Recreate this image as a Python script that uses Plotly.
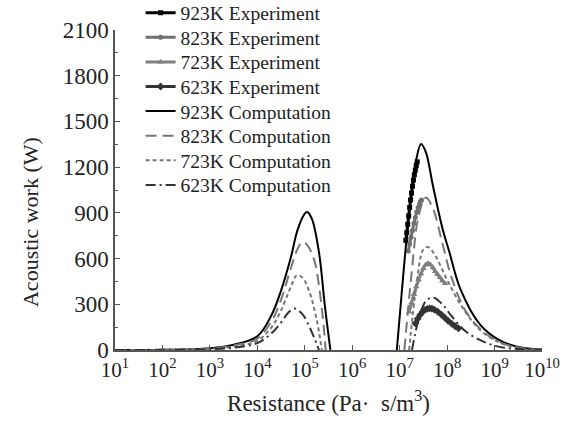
import numpy as np
import plotly.graph_objects as go

# ---------------- data (x as log10 of resistance, y acoustic work in W) ----------------
# Computation curves: left lobe
c923_left_logx = [1, 2, 3, 3.5, 4, 4.3, 4.5, 4.7, 4.85, 5.0, 5.05, 5.15, 5.3, 5.42, 5.54]
c923_left_w    = [0, 1, 12, 35, 90, 230, 390, 600, 790, 895, 905, 860, 640, 300, 0]
c823_left_logx = [1, 2, 3, 3.5, 4, 4.3, 4.5, 4.7, 4.85, 4.95, 5.05, 5.2, 5.3, 5.4, 5.44]
c823_left_w    = [0, 1, 10, 30, 75, 190, 330, 530, 665, 710, 690, 590, 420, 150, 0]
c723_left_logx = [1, 2, 3, 3.5, 4, 4.3, 4.5, 4.7, 4.83, 4.95, 5.1, 5.25, 5.36]
c723_left_w    = [0, 1, 8, 22, 60, 150, 260, 410, 490, 475, 380, 200, 0]
c623_left_logx = [1, 2, 3, 3.5, 4, 4.3, 4.5, 4.65, 4.78, 4.95, 5.1, 5.2, 5.3]
c623_left_w    = [0, 1, 5, 15, 45, 110, 180, 245, 272, 235, 150, 80, 0]

# Computation curves: right lobe
c923_right_logx = [6.94, 7.05, 7.2, 7.35, 7.45, 7.55, 7.7, 7.9, 8.05, 8.28, 8.7, 9.1, 9.5, 10]
c923_right_w    = [0, 400, 900, 1250, 1352, 1300, 1080, 800, 640, 400, 165, 65, 20, 3]
c823_right_logx = [7.1, 7.25, 7.4, 7.55, 7.7, 7.9, 8.1, 8.4, 8.8, 9.2, 9.6, 10]
c823_right_w    = [0, 500, 880, 1000, 930, 700, 470, 250, 110, 40, 10, 2]
c723_right_logx = [7.2, 7.35, 7.5, 7.6, 7.75, 8.0, 8.3, 8.7, 9.1, 9.5, 10]
c723_right_w    = [0, 420, 660, 675, 620, 460, 290, 130, 50, 15, 2]
c623_right_logx = [7.26, 7.4, 7.55, 7.7, 7.9, 8.1, 8.4, 8.8, 9.2, 10]
c623_right_w    = [0, 200, 320, 345, 300, 220, 120, 50, 15, 1]

# Experiments
e923_logx = [7.13, 7.15, 7.17, 7.19, 7.21, 7.23, 7.25, 7.27, 7.29, 7.31, 7.33, 7.35, 7.37]
e923_w    = [720, 770, 825, 880, 935, 985, 1030, 1075, 1115, 1150, 1180, 1210, 1235]
e823_logx = [7.18, 7.21, 7.24, 7.27, 7.30, 7.33, 7.36, 7.39, 7.42, 7.44, 7.46]
e823_w    = [650, 695, 740, 785, 830, 870, 905, 935, 960, 975, 985]
e723_logx = [7.2, 7.25, 7.3, 7.35, 7.4, 7.45, 7.5, 7.55, 7.6, 7.65, 7.7, 7.75, 7.8, 7.85, 7.9, 7.96]
e723_w    = [250, 310, 365, 415, 460, 500, 535, 560, 569, 560, 540, 515, 495, 475, 455, 437]
e623_logx = [7.33, 7.38, 7.43, 7.48, 7.53, 7.58, 7.63, 7.68, 7.73, 7.8, 7.88, 7.95, 8.02, 8.1, 8.17, 8.24]
e623_w    = [175, 205, 230, 250, 263, 270, 273, 271, 265, 252, 232, 212, 192, 172, 156, 142]

tick_exps = [1, 2, 3, 4, 5, 6, 7, 8, 9, 10]
tick_text = ["10<sup>%d</sup>" % e for e in tick_exps]
y_ticks = [0, 300, 600, 900, 1200, 1500, 1800, 2100]

# ---------------- figure ----------------
def R(lx):
    return 10 ** np.array(lx, dtype=float)

FONT = "Liberation Serif"
TXT = "#222222"
fig = go.Figure()

legend_ids = ["legend", "legend2", "legend3", "legend4", "legend5", "legend6", "legend7", "legend8"]

# Experiments
exp_specs = [
    ("923K Experiment", "black", "square", 5, e923_logx, e923_w),
    ("823K Experiment", "#707070", "circle", 5, e823_logx, e823_w),
    ("723K Experiment", "#808080", "triangle-up", 6, e723_logx, e723_w),
    ("623K Experiment", "#333333", "diamond", 6, e623_logx, e623_w),
]
for i, (name, col, sym, ms, lx, w) in enumerate(exp_specs):
    fig.add_trace(go.Scatter(x=R(lx), y=w, mode="lines+markers", name=name, legend=legend_ids[i],
                             line=dict(color=col, width=3, shape="spline"),
                             marker=dict(symbol=sym, size=ms, color=col)))

styles = [
    ("923K Computation", "black", "solid", c923_left_logx, c923_left_w, c923_right_logx, c923_right_w),
    ("823K Computation", "#777777", "11px,6px", c823_left_logx, c823_left_w, c823_right_logx, c823_right_w),
    ("723K Computation", "#777777", "4px,3px", c723_left_logx, c723_left_w, c723_right_logx, c723_right_w),
    ("623K Computation", "#333333", "10px,4px,2px,4px", c623_left_logx, c623_left_w, c623_right_logx, c623_right_w),
]
for j, (name, col, dash, lx1, w1, lx2, w2) in enumerate(styles):
    x = np.concatenate([R(lx1), [np.nan], R(lx2)])
    y = list(w1) + [None] + list(w2)
    fig.add_trace(go.Scatter(x=x, y=y, mode="lines", name=name, connectgaps=False,
                             legend=legend_ids[4 + j],
                             line=dict(color=col, width=2, dash=dash, shape="spline")))

# plot area: top 30 px, bottom 350 px (320 px tall)
layout_legends = {}
for k, lid in enumerate(legend_ids):
    row_px = 13 + k * 24.6
    layout_legends[lid] = dict(x=0.06, y=(350 - row_px) / 320, xanchor="left", yanchor="middle",
                               bgcolor="rgba(0,0,0,0)", itemwidth=30,
                               font=dict(family=FONT, size=19.5, color=TXT))

fig.update_layout(
    width=571, height=428,
    margin=dict(l=115, r=29, t=30, b=78, autoexpand=False),
    paper_bgcolor="white", plot_bgcolor="white",
    font=dict(family=FONT, color=TXT),
    showlegend=True,
    **layout_legends,
)
fig.add_annotation(text="Acoustic work (W)", textangle=-90, xref="paper", yref="paper",
                   x=-0.199, y=(350 - 222) / 320, xanchor="center", yanchor="middle",
                   showarrow=False, font=dict(size=22, family=FONT, color=TXT))
fig.update_xaxes(type="log", range=[1, 10], tickvals=R(tick_exps).tolist(), ticktext=tick_text,
                 showgrid=False, zeroline=False, showline=True, linecolor="#555555", linewidth=1.5,
                 ticks="inside", ticklen=5, tickcolor="#555555", tickfont=dict(size=21, family=FONT, color=TXT),
                 title=dict(text="Resistance (Pa·  s/m<sup>3</sup>)", font=dict(size=23, family=FONT, color=TXT), standoff=14))
fig.update_yaxes(range=[0, 2100], tickvals=y_ticks, showgrid=False, zeroline=False,
                 showline=True, linecolor="#555555", linewidth=1.5,
                 ticks="inside", ticklen=5, tickcolor="#555555", tickfont=dict(size=23, family=FONT, color=TXT),
                 minor=dict(ticks="inside", ticklen=3, dtick=150, tickcolor="#555555"))

fig.write_html("out.html")
